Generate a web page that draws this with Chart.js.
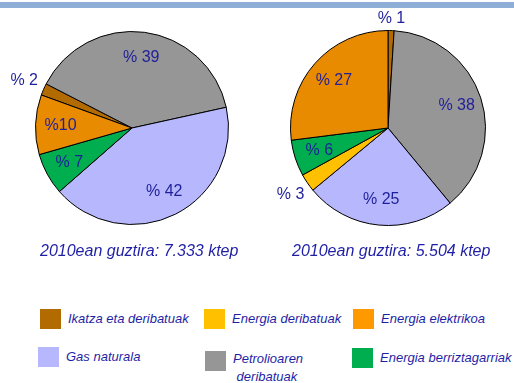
<!DOCTYPE html>
<html>
<head>
<meta charset="utf-8">
<script src="https://cdn.jsdelivr.net/npm/chart.js@4.4.0/dist/chart.umd.min.js"></script>
<style>
  body { margin: 0; width: 514px; height: 383px; background: #fff; position: relative; overflow: hidden;
         font-family: "Liberation Sans", Arial, sans-serif; }
  #topbar { position: absolute; left: 0; top: 2px; width: 514px; height: 6px; background: #8eadd7; }
  .pie { position: absolute; top: 8px; height: 240px; }
  #leftBox { left: 0px; width: 264px; }
  #rightBox { left: 264px; width: 248px; }
  .total { position: absolute; top: 242px; font-style: italic; font-size: 16px; color: #1f1fa6; white-space: nowrap; }
  #legend { position: absolute; left: 0; top: 0; }
  .item { position: absolute; font-style: italic; font-size: 13px; color: #1f1fa6; line-height: 18px; }
  .item span.box { position: absolute; width: 21px; height: 20px; }
  .item span.txt { position: absolute; white-space: nowrap; }
</style>
</head>
<body>
<div id="topbar"></div>
<div class="pie" id="leftBox"><canvas id="leftChart"></canvas></div>
<div class="pie" id="rightBox"><canvas id="rightChart"></canvas></div>
<div class="total" style="left:40px">2010ean guztira: 7.333 ktep</div>
<div class="total" style="left:292px">2010ean guztira: 5.504 ktep</div>
<div id="legend"></div>
<script>
// categories (same order for both pies, clockwise)
const categories = ['Ikatza eta deribatuak', 'Petrolioaren deribatuak', 'Gas naturala',
                    'Energia deribatuak', 'Energia berriztagarriak', 'Energia elektrikoa'];
const pieColors = ['#b26b00', '#969696', '#b7b7fd', '#ffc000', '#00ae4f', '#e98b00'];
const legendColors = ['#b26b00', '#969696', '#b7b7fd', '#ffc000', '#00ae4f', '#ff9900'];

// % shares
const leftValues = [2, 39, 42, 0, 7, 10];
const rightValues = [1, 38, 25, 3, 6, 27];
const leftLabels = ['% 2', '% 39', '% 42', '', '% 7', '%10'];
const rightLabels = ['% 1', '% 38', '% 25', '% 3', '% 6', '% 27'];

// draws the % text on each slice (small slices outside)
const sliceLabels = {
    id: 'sliceLabels',
    afterDatasetsDraw(chart, args, opts) {
        const c = chart.ctx;
        const meta = chart.getDatasetMeta(0);
        const values = chart.data.datasets[0].data;
        c.save();
        c.font = '16px "Liberation Sans", Arial, sans-serif';
        c.fillStyle = '#1f1f9a';
        c.textAlign = 'center';
        c.textBaseline = 'middle';
        meta.data.forEach((arc, i) => {
            const txt = opts.labels[i];
            if (!txt) return;
            const p = arc.getProps(['x', 'y', 'startAngle', 'endAngle', 'outerRadius'], true);
            const mid = (p.startAngle + p.endAngle) / 2;
            let r = p.outerRadius * 0.74;
            if (values[i] < 4) r = p.outerRadius + 12 + 10 * Math.abs(Math.cos(mid));
            c.fillText(txt, p.x + Math.cos(mid) * r, p.y + Math.sin(mid) * r);
        });
        c.restore();
    }
};

function makePie(id, values, labels, rotation, pad) {
    return new Chart(document.getElementById(id), {
        type: 'pie',
        data: {
            labels: categories,
            datasets: [{
                data: values,
                backgroundColor: pieColors,
                borderColor: '#000',
                borderWidth: 1
            }]
        },
        options: {
            responsive: true,
            maintainAspectRatio: false,
            animation: false,
            rotation: rotation,
            layout: { padding: pad },
            plugins: {
                legend: { display: false },
                tooltip: { enabled: false },
                sliceLabels: { labels: labels }
            }
        },
        plugins: [sliceLabels]
    });
}

makePie('leftChart', leftValues, leftLabels, -70, { left: 35, right: 35, top: 23, bottom: 23 });
makePie('rightChart', rightValues, rightLabels, 0, { left: 26, right: 26, top: 22, bottom: 22 });

// shared legend below the pies, two rows of three
const legendRows = [
    { i: 0, x: 40, y: 309 }, { i: 3, x: 204, y: 309 }, { i: 5, x: 353, y: 309 },
    { i: 2, x: 38, y: 347 }, { i: 1, x: 205, y: 351 }, { i: 4, x: 352, y: 348 }
];
const legend = document.getElementById('legend');
legendRows.forEach(r => {
    const d = document.createElement('div');
    d.className = 'item';
    d.style.left = r.x + 'px';
    d.style.top = r.y + 'px';
    const b = document.createElement('span');
    b.className = 'box';
    b.style.background = legendColors[r.i];
    d.appendChild(b);
    const t = document.createElement('span');
    t.className = 'txt';
    t.style.left = '28px';
    if (r.i === 1) {
        t.innerHTML = 'Petrolioaren<br>&nbsp;deribatuak';
        t.style.top = '-1px';
    } else {
        t.textContent = categories[r.i];
        t.style.top = '1px';
    }
    d.appendChild(t);
    legend.appendChild(d);
});
</script>
</body>
</html>
